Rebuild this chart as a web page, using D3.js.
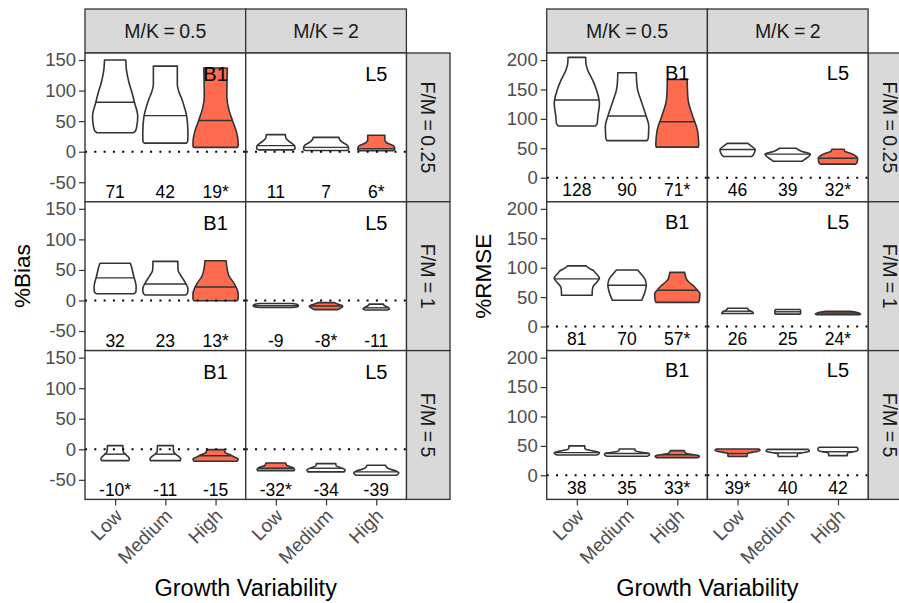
<!DOCTYPE html>
<html>
<head>
<meta charset="utf-8">
<script src="https://cdn.jsdelivr.net/npm/d3@7"></script>
<style>
  body { margin: 0; background: #fff; }
  text { font-family: "Liberation Sans", Arial, sans-serif; }
</style>
</head>
<body>
<svg id="chart" width="899" height="603"></svg>
<script>
// facet levels
var growth = ["Low", "Medium", "High"];
var mkLabels = ["M/K = 0.5", "M/K = 2"];
var fmLabels = ["F/M = 0.25", "F/M = 1", "F/M = 5"];
var methods = ["B1", "L5"];

// violin outlines: [value, relative half width], bottom to top
// index: [F/M row][M/K column][growth]
var biasShapes = [
  [
    [
      {prof: [[31,0.8],[34,0.9],[42,0.96],[58,1.0],[80,0.86],[96,0.75],[112,0.62],[134,0.5],[150,0.47]], med: 81},
      {prof: [[14,0.93],[17,0.99],[30,1.0],[57,0.95],[72,0.85],[85,0.74],[98,0.6],[110,0.53],[140,0.53]], med: 59},
      {prof: [[7,0.97],[10,1.0],[20,0.99],[30,0.94],[52,0.74],[70,0.58],[90,0.5],[137,0.52]], med: 51}
    ],
    [
      {prof: [[3,0.76],[5,0.85],[9,0.84],[16,0.62],[22,0.45],[28,0.42]], med: 10},
      {prof: [[2,0.92],[5,1.0],[10,0.95],[16,0.7],[20,0.6],[23.5,0.57]], med: 7},
      {prof: [[1.5,0.75],[4,0.82],[9,0.78],[15,0.45],[19,0.38],[27,0.38]], med: 5}
    ]
  ],
  [
    [
      {prof: [[11,0.83],[14,0.92],[23,0.93],[40,0.82],[58,0.7],[61,0.67]], med: 37},
      {prof: [[9,0.9],[12,0.98],[19,1.0],[28,0.9],[40,0.7],[50,0.56],[64,0.55]], med: 27},
      {prof: [[-0.5,0.95],[3,1.0],[11,1.0],[20,0.93],[28,0.82],[40,0.6],[50,0.52],[65,0.47]], med: 22}
    ],
    [
      {prof: [[-11.5,0.7],[-10,0.97],[-8.5,1.0],[-6.5,0.95],[-5,0.7]], med: -8.5},
      {prof: [[-15,0.5],[-12.5,0.65],[-9,0.74],[-6,0.55],[-3.5,0.37]], med: -9},
      {prof: [[-15.5,0.5],[-14,0.59],[-11,0.5],[-8,0.35],[-6,0.32]], med: -12}
    ]
  ],
  [
    [
      {prof: [[-18.5,0.6],[-16,0.63],[-13,0.6],[-9,0.48],[-4,0.36],[6,0.34]], med: -8},
      {prof: [[-18.5,0.66],[-15.5,0.68],[-12,0.6],[-8,0.45],[-3,0.36],[6,0.35]], med: -8},
      {prof: [[-19.5,0.95],[-16,1.0],[-13,0.85],[-9,0.65],[-5,0.42],[-0.5,0.39]], med: -10.5}
    ],
    [
      {prof: [[-35,0.8],[-33,0.83],[-29.5,0.72],[-26,0.48],[-22.5,0.44]], med: -31},
      {prof: [[-37,0.8],[-34,0.85],[-30,0.65],[-27,0.45],[-23.5,0.43]], med: -31},
      {prof: [[-42.5,0.9],[-39,1.0],[-36,0.9],[-31,0.5],[-26,0.41]], med: -37}
    ]
  ]
];

var rmseShapes = [
  [
    [
      {prof: [[88,0.82],[92,0.9],[104,0.93],[126,1.0],[149,0.87],[166,0.7],[183,0.48],[195,0.4],[204.6,0.39]], med: 132},
      {prof: [[63,0.88],[67,0.94],[87,0.96],[109,0.81],[132,0.61],[149,0.47],[165,0.42],[178.5,0.41]], med: 105},
      {prof: [[52,0.93],[56,0.95],[81,0.89],[104,0.69],[132,0.48],[150,0.45],[167,0.44]], med: 95}
    ],
    [
      {prof: [[36,0.62],[39,0.7],[48,0.78],[54,0.6],[58.4,0.46]], med: 48},
      {prof: [[28,0.64],[31,0.75],[40,1.0],[45,0.6],[50,0.36]], med: 40},
      {prof: [[23,0.78],[26,0.85],[33,0.87],[41.5,0.55],[45,0.3],[48.4,0.27]], med: 33}
    ]
  ],
  [
    [
      {prof: [[53,0.68],[60,0.68],[68.5,0.73],[76,0.9],[82,1.0],[90,0.85],[96,0.7],[100,0.5],[103,0.42]], med: 81},
      {prof: [[44.7,0.65],[60,0.8],[70,0.85],[80,0.8],[90,0.6],[96,0.47]], med: 70},
      {prof: [[41,0.94],[45,0.98],[56,1.0],[62,0.88],[68.5,0.74],[76,0.5],[81,0.4],[92,0.33]], med: 61.7}
    ],
    [
      {prof: [[22,0.7],[24,0.68],[28,0.5],[31,0.44]], med: 26},
      {prof: [[21,0.55],[22.5,0.57],[27,0.57],[29,0.53]], med: 25},
      {prof: [[20,0.95],[21.5,1.0],[23.5,0.9],[26,0.55]], med: 23}
    ]
  ],
  [
    [
      {prof: [[34.5,0.88],[36.5,0.97],[38.5,1.0],[41,0.8],[44,0.4],[47,0.35],[50,0.35]], med: 38.5},
      {prof: [[32.3,0.9],[35,1.0],[37.4,0.95],[40,0.5],[42,0.35],[44.7,0.35]], med: 37},
      {prof: [[30,0.9],[32,0.98],[34,0.9],[37,0.4],[42,0.3]], med: 35}
    ],
    [
      {prof: [[32,0.42],[37,0.43],[40,0.8],[42,1.0],[44.7,0.95]], med: 37},
      {prof: [[32,0.42],[37,0.44],[39.5,0.85],[41,0.96],[44,0.9]], med: 38},
      {prof: [[33.4,0.41],[38,0.42],[41,0.8],[43,0.89],[47.6,0.85]], med: 40}
    ]
  ]
];

// numbers printed under each violin
var biasLabels = [
  [["71", "42", "19*"], ["11", "7", "6*"]],
  [["32", "23", "13*"], ["-9", "-8*", "-11"]],
  [["-10*", "-11", "-15"], ["-32*", "-34", "-39"]]
];
var rmseLabels = [
  [["128", "90", "71*"], ["46", "39", "32*"]],
  [["81", "70", "57*"], ["26", "25", "24*"]],
  [["38", "35", "33*"], ["39*", "40", "42"]]
];

// which violin of each facet is filled
var biasFill = [[2, 2], [2, 1], [2, 0]];
var rmseFill = [[2, 2], [2, 2], [2, 0]];

var biasTicks = [-50, 0, 50, 100, 150];
var rmseTicks = [0, 50, 100, 150, 200];

var svg = d3.select("#chart");
var stripTop = 9, rowTop = 53, rowH = 148.8, facetW = 160.7, sideW = 43.6;
var ink = "#333333", hot = "#ff6b4f";

function panel(p) {
  var g = svg.append("g");
  var x = d3.scalePoint().domain(growth).range([0, facetW]).padding(0.6);
  var hw = x.step() * 0.45;
  var right = p.left + 2 * facetW;

  // column strips
  mkLabels.forEach(function(lab, j) {
    var x0 = p.left + j * facetW;
    g.append("rect")
      .attr("x", x0).attr("y", stripTop)
      .attr("width", facetW).attr("height", rowTop - stripTop)
      .attr("fill", "#d9d9d9").attr("stroke", ink).attr("stroke-width", 1.3);
    g.append("text")
      .attr("x", x0 + facetW / 2).attr("y", (stripTop + rowTop) / 2)
      .attr("dy", "0.36em").attr("text-anchor", "middle")
      .attr("font-size", 19.5).attr("word-spacing", -1).attr("fill", "#1a1a1a")
      .text(lab);
  });

  fmLabels.forEach(function(lab, i) {
    var top = rowTop + i * rowH;
    var y = d3.scaleLinear().domain(p.domain).range([top + rowH, top]);

    // row strip
    g.append("rect")
      .attr("x", right).attr("y", top)
      .attr("width", sideW).attr("height", rowH)
      .attr("fill", "#d9d9d9").attr("stroke", ink).attr("stroke-width", 1.3);
    g.append("text")
      .attr("transform", "translate(" + (right + sideW / 2) + "," + (top + rowH / 2) + ") rotate(90)")
      .attr("dy", "0.36em").attr("text-anchor", "middle")
      .attr("font-size", 19.5).attr("word-spacing", -1).attr("fill", "#1a1a1a")
      .text(lab);

    methods.forEach(function(m, j) {
      var x0 = p.left + j * facetW;
      var fg = g.append("g").attr("transform", "translate(" + x0 + ",0)");

      fg.append("rect")
        .attr("x", 0).attr("y", top)
        .attr("width", facetW).attr("height", rowH)
        .attr("fill", "#fff");

      p.shapes[i][j].forEach(function(v, k) {
        var cx = x(growth[k]);
        var area = d3.area()
          .y(function(d) { return y(d[0]); })
          .x0(function(d) { return cx - hw * d[1]; })
          .x1(function(d) { return cx + hw * d[1]; })
          .curve(d3.curveMonotoneY);
        fg.append("path")
          .attr("d", area(v.prof))
          .attr("fill", p.fill[i][j] === k ? hot : "#fff")
          .attr("stroke", ink).attr("stroke-width", 1.6)
          .attr("stroke-linejoin", "round");
        var w = d3.scaleLinear()
          .domain(v.prof.map(function(d) { return d[0]; }))
          .range(v.prof.map(function(d) { return d[1]; }));
        fg.append("line")
          .attr("x1", cx - hw * w(v.med)).attr("x2", cx + hw * w(v.med))
          .attr("y1", y(v.med)).attr("y2", y(v.med))
          .attr("stroke", ink).attr("stroke-width", 1.4);
      });

      // zero reference
      fg.append("line")
        .attr("x1", 0).attr("x2", facetW)
        .attr("y1", y(0)).attr("y2", y(0))
        .attr("stroke", "#000").attr("stroke-width", 2)
        .attr("stroke-dasharray", "2,7.3");

      fg.selectAll(null)
        .data(p.labels[i][j])
        .enter()
        .append("text")
        .attr("x", function(d, k) { return x(growth[k]); })
        .attr("y", y(p.labelAt))
        .attr("dy", "0.36em").attr("text-anchor", "middle")
        .attr("font-size", 17.5).attr("fill", "#000")
        .text(function(d) { return d; });

      fg.append("text")
        .attr("x", x("High")).attr("y", y(p.methodAt))
        .attr("dy", "0.36em").attr("text-anchor", "middle")
        .attr("font-size", 20).attr("fill", "#000")
        .text(m);

      fg.append("rect")
        .attr("x", 0).attr("y", top)
        .attr("width", facetW).attr("height", rowH)
        .attr("fill", "none").attr("stroke", ink).attr("stroke-width", 1.4);

      if (i === fmLabels.length - 1) {
        var ax = fg.append("g")
          .attr("transform", "translate(0," + (top + rowH) + ")")
          .call(d3.axisBottom(x).tickSize(6).tickPadding(4));
        ax.select(".domain").remove();
        ax.selectAll("line").attr("stroke", ink).attr("stroke-width", 1.2);
        ax.selectAll("text")
          .attr("font-size", 19).attr("fill", "#4d4d4d")
          .attr("text-anchor", "end")
          .attr("x", 0).attr("y", 0).attr("dy", "0.35em")
          .attr("transform", "translate(3,13) rotate(-45)");
      }
    });

    var ay = g.append("g")
      .attr("transform", "translate(" + p.left + ",0)")
      .call(d3.axisLeft(y).tickValues(p.ticks).tickSize(6).tickPadding(3)
        .tickFormat(function(d) { return String(d); }));
    ay.select(".domain").remove();
    ay.selectAll("line").attr("stroke", ink).attr("stroke-width", 1.2);
    ay.selectAll("text").attr("font-size", 18.5).attr("fill", "#4d4d4d");
  });

  // axis titles
  g.append("text")
    .attr("x", p.left + facetW).attr("y", 596)
    .attr("text-anchor", "middle").attr("font-size", 23.5).attr("fill", "#000")
    .text("Growth Variability");
  g.append("text")
    .attr("transform", "translate(" + p.titleX + "," + (rowTop + 1.5 * rowH) + ") rotate(-90)")
    .attr("dy", "0.36em")
    .attr("text-anchor", "middle").attr("font-size", 22.5).attr("fill", "#000")
    .text(p.title);
}

panel({left: 85, domain: [-82, 161.5], ticks: biasTicks, shapes: biasShapes,
       labels: biasLabels, fill: biasFill, labelAt: -66, methodAt: 127,
       title: "%Bias", titleX: 22});
panel({left: 546.7, domain: [-41, 212], ticks: rmseTicks, shapes: rmseShapes,
       labels: rmseLabels, fill: rmseFill, labelAt: -21, methodAt: 178.6,
       title: "%RMSE", titleX: 483});
</script>
</body>
</html>
